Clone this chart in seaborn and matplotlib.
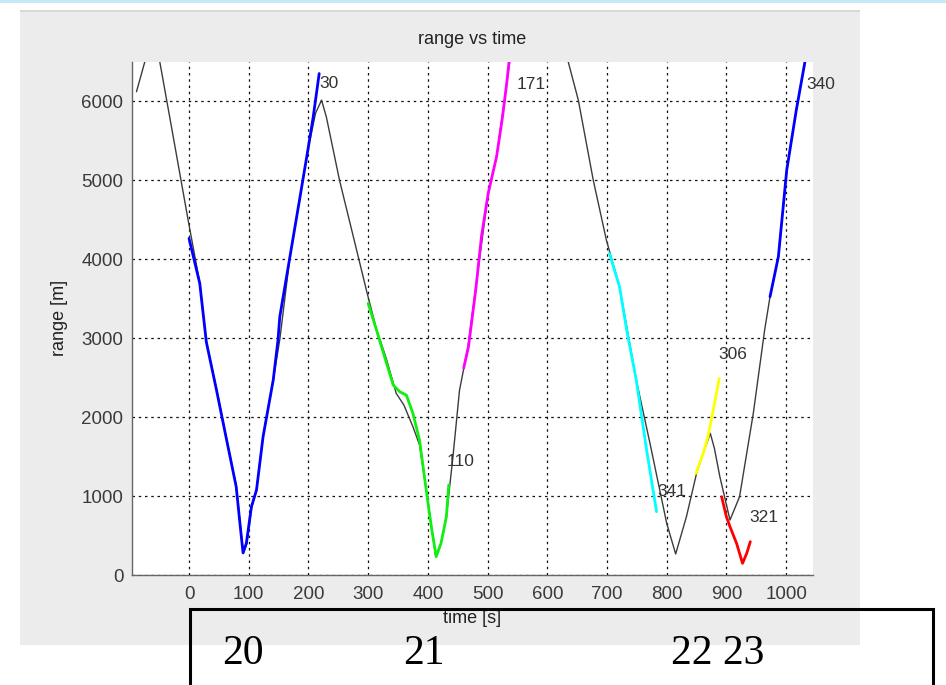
import pandas as pd
import seaborn as sns
import matplotlib.pyplot as plt
from matplotlib.patches import Rectangle

# --- true range (thin dark line) ---
truth_t = [-88, -74, -59, -49, -30, -1.5, 18, 29, 46, 63, 79, 91, 97, 105, 113, 124, 141, 152,
           169, 185, 199, 212, 222, 230, 252, 286, 297, 314, 330, 347, 360, 375, 386, 398,
           413, 422, 431, 442, 453, 467, 501, 515, 532, 545, 575, 635, 652, 677, 699, 721,
           749, 772, 800, 815, 833, 850, 861, 873, 880, 889, 906, 922, 945, 964, 973, 987,
           1001, 1017, 1031, 1045]
truth_r = [6120, 6500, 6910, 6500, 5700, 4494, 3700, 2960, 2360, 1720, 1130, 280, 400, 860,
           1080, 1750, 2470, 2980, 4030, 4750, 5380, 5850, 6013, 5800, 5000, 3950, 3608, 3110,
           2750, 2300, 2150, 1877, 1650, 1040, 240, 400, 740, 1497, 2340, 2880, 4830, 5290,
           6220, 6950, 8600, 6500, 6013, 5000, 4240, 3650, 2470, 1667, 654, 266, 738, 1287,
           1540, 1794, 1600, 1245, 696, 991, 2046, 3101, 3523, 4030, 5127, 5886, 6477, 7000]

# --- tracks (coloured) ---
trk30_t = [0, 18, 29, 46, 63, 79, 86, 90.5, 96, 104.5, 113, 124, 141, 149, 152, 169, 185, 199, 208, 218]
trk30_r = [4262, 3692, 2950, 2342, 1709, 1118, 600, 280, 401, 864, 1076, 1751, 2468, 2975, 3270,
           4030, 4747, 5380, 5801, 6350]
trk110_t = [300, 314, 330, 342, 353, 364, 375, 386, 398, 406, 414, 422, 431, 435]
trk110_r = [3440, 3101, 2700, 2405, 2320, 2278, 2046, 1709, 1034, 600, 232, 400, 738, 1140]
trk171_t = [460, 468, 480, 490, 501, 515, 525, 532, 536]
trk171_r = [2620, 2890, 3600, 4300, 4831, 5295, 5800, 6224, 6500]
trk341_t = [704, 721, 733, 749, 766, 783]
trk341_r = [4072, 3650, 3100, 2468, 1600, 801]
trk306_t = [849, 861, 869, 878, 888]
trk306_r = [1287, 1540, 1751, 2088, 2490]
trk321_t = [892, 900, 906, 917, 927, 934, 940]
trk321_r = [991, 738, 611, 401, 148, 275, 422]
trk340_t = [973, 987, 1001, 1017, 1031, 1034]
trk340_r = [3523, 4030, 5127, 5886, 6477, 6620]

track_ids = ["30", "110", "171", "341", "306", "321", "340"]
track_colors = ["#0000ff", "#11ee11", "#ff00ff", "#00ffff", "#ffff00", "#ff0000", "#0000ff"]
label_t = [219, 432, 548, 785, 886, 939, 1034]
label_r = [6222, 1443, 6215, 1063, 2791, 728, 6215]

tracks = pd.concat([
    pd.DataFrame({"t": t, "r": r, "id": i})
    for i, t, r in zip(track_ids,
                       [trk30_t, trk110_t, trk171_t, trk341_t, trk306_t, trk321_t, trk340_t],
                       [trk30_r, trk110_r, trk171_r, trk341_r, trk306_r, trk321_r, trk340_r])
])

sns.set_style("white")
plt.rcParams['font.family'] = ['Liberation Sans', 'DejaVu Sans']

fig = plt.figure(figsize=(9.46, 6.85), dpi=100)
fig.patch.set_facecolor("white")
# matlab figure window background
fig.patches.append(Rectangle((20 / 946, 40 / 685), 840 / 946, 635 / 685, transform=fig.transFigure,
                             facecolor="#ececec", edgecolor="none", zorder=-2))
fig.patches.append(Rectangle((20 / 946, 673 / 685), 840 / 946, 2 / 685, transform=fig.transFigure,
                             facecolor="#d9d9d2", edgecolor="none", zorder=-1))
fig.patches.append(Rectangle((0, 682 / 685), 1, 3 / 685, transform=fig.transFigure,
                             facecolor="#c6e9fa", edgecolor="none", zorder=-1))

ax = fig.add_axes([131.7 / 946, 1 - 575 / 685, 681.3 / 946, 513.3 / 685])
ax.set_facecolor("white")

sns.lineplot(x=truth_t, y=truth_r, ax=ax, color="#3c3c3c", linewidth=1.0,
             sort=False, estimator=None, zorder=2)
for tid, col in zip(track_ids, track_colors):
    d = tracks[tracks["id"] == tid]
    sns.lineplot(data=d, x="t", y="r", ax=ax, color=col, linewidth=2.0,
                 sort=False, estimator=None, zorder=3)

for tid, lt, lr in zip(track_ids, label_t, label_r):
    ax.text(lt, lr, tid, ha="left", va="center", fontsize=12.5, color="#333333", zorder=5)

ax.set_xlim(-96, 1045)
ax.set_ylim(0, 6500)
ax.set_xticks(range(0, 1001, 100))
ax.set_yticks(range(0, 6001, 1000))
ax.grid(True, color="#111111", linestyle=(0, (2, 3)), linewidth=0.9)
ax.set_axisbelow(True)
for s in ["top", "right"]:
    ax.spines[s].set_visible(False)
for s in ["left", "bottom"]:
    ax.spines[s].set_color("#666666")
    ax.spines[s].set_linewidth(1.0)
ax.tick_params(direction="in", length=7, color="#555555", labelcolor="#3a3a3a",
               labelsize=13.5, pad=6)
ax.tick_params(axis="x", pad=8)

ax.set_title("range vs time", fontsize=13, color="#222222", pad=13)
ax.set_xlabel("time [s]", fontsize=13, color="#222222")
ax.set_ylabel("range [m]", fontsize=13, color="#222222")
ax.xaxis.set_label_coords(0.5, -0.068)
ax.yaxis.set_label_coords(-0.0935, 0.5)

# black box with day numbers
fig.patches.append(Rectangle((190 / 946, -0.02), 743 / 946, 76 / 685 + 0.02, transform=fig.transFigure,
                             fill=False, edgecolor="black", linewidth=2.2, zorder=5))
for txt, xp in zip(["20", "21", "22 23"], [243, 424, 718]):
    fig.text(xp / 946, 31 / 685, txt, ha="center", va="center", fontsize=30,
             family=["Liberation Serif", "DejaVu Serif"], color="black")

fig.savefig("out.png", dpi=100)
